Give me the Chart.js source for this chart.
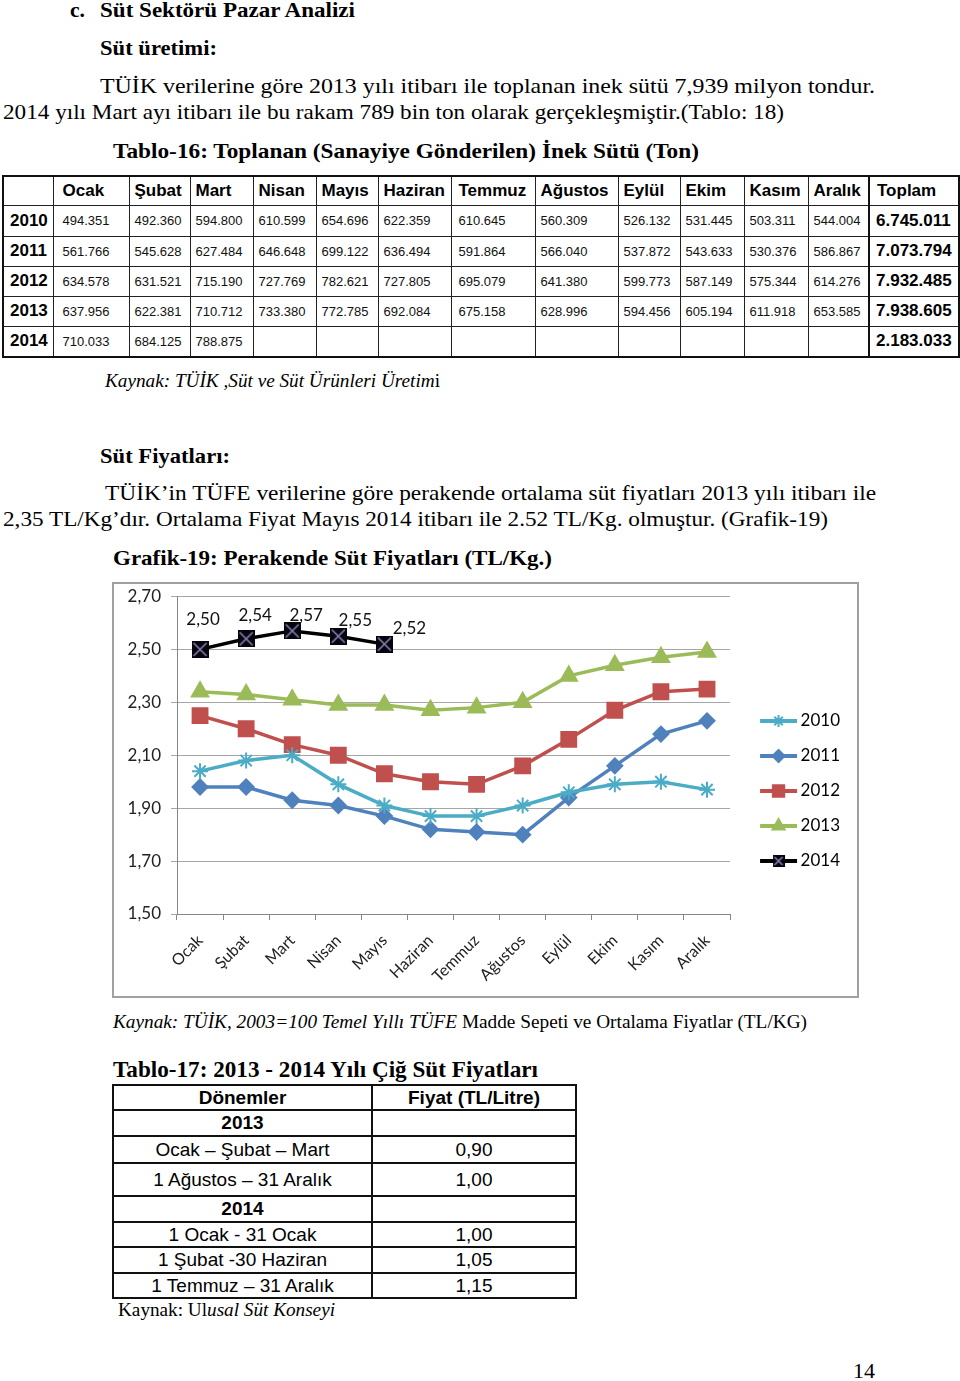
<!DOCTYPE html>
<html lang="tr">
<head>
<meta charset="utf-8">
<title>Süt Sektörü Pazar Analizi</title>
<script src="https://cdn.jsdelivr.net/npm/chart.js@4.4.1/dist/chart.umd.min.js"></script>
<style>
  html, body { margin: 0; padding: 0; background: #fff; }
  body { width: 960px; height: 1381px; position: relative; overflow: hidden;
         font-family: "Liberation Serif", "Times New Roman", serif; color: #000; }
  .t { position: absolute; white-space: nowrap; font-size: 21px; line-height: 24px; transform-origin: 0 50%; }
  .b { font-weight: bold; }
  .i { font-style: italic; }
  table { position: absolute; border-collapse: collapse; table-layout: fixed;
          font-family: "Liberation Sans", Arial, sans-serif; color: #000; }
  #prod { left: 2px; top: 175px; width: 956px; border: 2px solid #111; }
  #prod th, #prod td { border: 1px solid #222; padding: 0 0 0 5px; text-align: left; white-space: nowrap; overflow: hidden; }
  #prod th { font-size: 17px; font-weight: bold; }
  #prod td { font-size: 13px; color: #111; }
  #prod td.tot { font-size: 17px; font-weight: bold; color: #000; border-left: 2px solid #111; padding-left: 6px; }
  #prod th.tot { border-left: 2px solid #111; padding-left: 7px; }
  #prod .c1 { padding-left: 9px; }
  #prod .c7 { padding-left: 7px; }
  #prod th.yr { padding-left: 6px; }
  #price { left: 112px; top: 1084px; width: 463px; border: 2px solid #111; }
  #price th, #price td { border: 2px solid #111; padding: 0; text-align: center; font-size: 19px; white-space: nowrap; }
  #price th { font-weight: bold; }
  #box { position: absolute; left: 112px; top: 582px; width: 747px; height: 416px;
         border: 2px solid #a0a0a0; box-sizing: border-box; }
  #box canvas { display: block; }
</style>
</head>
<body>

<div class="t b" style="left:70px;top:-2px;font-size:22px" data-w="15">c.</div>
<div class="t b" style="left:100px;top:-2px;font-size:22px" data-w="255">Süt Sektörü Pazar Analizi</div>
<div class="t b" style="left:100px;top:36px;font-size:22px" data-w="117">Süt üretimi:</div>
<div class="t" style="left:100px;top:74px" data-w="775">TÜİK verilerine göre 2013 yılı itibarı ile toplanan inek sütü 7,939 milyon tondur.</div>
<div class="t" style="left:3px;top:100px" data-w="781">2014 yılı Mart ayı itibarı ile bu rakam 789 bin ton olarak gerçekleşmiştir.(Tablo: 18)</div>
<div class="t b" style="left:113px;top:139px;font-size:22px" data-w="586">Tablo-16: Toplanan (Sanayiye Gönderilen) İnek Sütü (Ton)</div>

<table id="prod"></table>

<div class="t" style="left:105px;top:369px;font-size:18px" data-w="335"><span class="i">Kaynak: TÜİK ,Süt ve Süt Ürünleri Üretim</span>i</div>

<div class="t b" style="left:100px;top:444px;font-size:22px" data-w="130">Süt Fiyatları:</div>
<div class="t" style="left:105px;top:481px" data-w="771">TÜİK’in TÜFE verilerine göre perakende ortalama süt fiyatları 2013 yılı itibarı ile</div>
<div class="t" style="left:3px;top:507px" data-w="825">2,35 TL/Kg’dır. Ortalama Fiyat Mayıs 2014 itibarı ile 2.52 TL/Kg. olmuştur. (Grafik-19)</div>
<div class="t b" style="left:113px;top:546px;font-size:22px" data-w="439">Grafik-19: Perakende Süt Fiyatları (TL/Kg.)</div>

<div id="box"><canvas id="priceChart" width="743" height="412"></canvas></div>

<div class="t" style="left:113px;top:1010px;font-size:18px" data-w="694"><span class="i">Kaynak: TÜİK, 2003=100 Temel Yıllı TÜFE</span> Madde Sepeti ve Ortalama Fiyatlar (TL/KG)</div>

<div class="t b" style="left:113px;top:1057px;font-size:23px;line-height:26px" data-w="425">Tablo-17: 2013 - 2014 Yılı Çiğ Süt Fiyatları</div>

<table id="price">
  <colgroup><col style="width:259px"><col style="width:204px"></colgroup>
  <tr style="height:25px"><th>Dönemler</th><th>Fiyat (TL/Litre)</th></tr>
  <tr style="height:26px"><th>2013</th><td></td></tr>
  <tr style="height:27px"><td>Ocak – Şubat – Mart</td><td>0,90</td></tr>
  <tr style="height:33px"><td>1 Ağustos – 31 Aralık</td><td>1,00</td></tr>
  <tr style="height:26px"><th>2014</th><td></td></tr>
  <tr style="height:25px"><td>1 Ocak - 31 Ocak</td><td>1,00</td></tr>
  <tr style="height:26px"><td>1 Şubat -30 Haziran</td><td>1,05</td></tr>
  <tr style="height:25px"><td>1 Temmuz – 31 Aralık</td><td>1,15</td></tr>
</table>

<div class="t" style="left:118px;top:1298px;font-size:18px" data-w="217">Kaynak: Ul<span class="i">usal Süt Konseyi</span></div>
<div class="t" style="left:853px;top:1359px" data-w="22">14</div>

<script>
// Tablo-16 values (ton)
const prodHeads = ['Ocak', 'Şubat', 'Mart', 'Nisan', 'Mayıs', 'Haziran', 'Temmuz', 'Ağustos', 'Eylül', 'Ekim', 'Kasım', 'Aralık'];
const prodYears = ['2010', '2011', '2012', '2013', '2014'];
const prod2010 = ['494.351', '492.360', '594.800', '610.599', '654.696', '622.359', '610.645', '560.309', '526.132', '531.445', '503.311', '544.004'];
const prod2011 = ['561.766', '545.628', '627.484', '646.648', '699.122', '636.494', '591.864', '566.040', '537.872', '543.633', '530.376', '586.867'];
const prod2012 = ['634.578', '631.521', '715.190', '727.769', '782.621', '727.805', '695.079', '641.380', '599.773', '587.149', '575.344', '614.276'];
const prod2013 = ['637.956', '622.381', '710.712', '733.380', '772.785', '692.084', '675.158', '628.996', '594.456', '605.194', '611.918', '653.585'];
const prod2014 = ['710.033', '684.125', '788.875', '', '', '', '', '', '', '', '', ''];
const prodTotals = ['6.745.011', '7.073.794', '7.932.485', '7.938.605', '2.183.033'];

// Grafik-19 values (TL/Kg)
const months = ['Ocak', 'Şubat', 'Mart', 'Nisan', 'Mayıs', 'Haziran', 'Temmuz', 'Ağustos', 'Eylül', 'Ekim', 'Kasım', 'Aralık'];
const price2010 = [2.04, 2.08, 2.10, 1.99, 1.91, 1.87, 1.87, 1.91, 1.96, 1.99, 2.00, 1.97];
const price2011 = [1.98, 1.98, 1.93, 1.91, 1.87, 1.82, 1.81, 1.80, 1.94, 2.06, 2.18, 2.23];
const price2012 = [2.25, 2.20, 2.14, 2.10, 2.03, 2.00, 1.99, 2.06, 2.16, 2.27, 2.34, 2.35];
const price2013 = [2.34, 2.33, 2.31, 2.29, 2.29, 2.27, 2.28, 2.30, 2.40, 2.44, 2.47, 2.49];
const price2014 = [2.50, 2.54, 2.57, 2.55, 2.52, null, null, null, null, null, null, null];
const yTicks = [1.50, 1.70, 1.90, 2.10, 2.30, 2.50, 2.70];

// build the production table
(function () {
  const colW = [50, 76, 61, 63, 63, 62, 73, 84, 83, 62, 64, 64, 61, 90];
  const rows = [prod2010, prod2011, prod2012, prod2013, prod2014];
  const rowH = [31, 30, 30, 30, 31];
  let html = '<colgroup>' + colW.map(w => '<col style="width:' + w + 'px">').join('') + '</colgroup>';
  html += '<tr style="height:29px"><th></th>' +
    prodHeads.map((h, i) => '<th class="c' + (i + 1) + '">' + h + '</th>').join('') +
    '<th class="tot">Toplam</th></tr>';
  rows.forEach((r, k) => {
    html += '<tr style="height:' + rowH[k] + 'px"><th class="yr">' + prodYears[k] + '</th>' +
      r.map((v, i) => '<td class="c' + (i + 1) + '">' + v + '</td>').join('') +
      '<td class="tot">' + prodTotals[k] + '</td></tr>';
  });
  document.getElementById('prod').innerHTML = html;
})();

// squeeze text lines to the widths of the page
document.querySelectorAll('[data-w]').forEach(el => {
  const w = el.getBoundingClientRect().width;
  el.style.transform = 'scaleX(' + (+el.dataset.w / w).toFixed(4) + ')';
});

// 2014 marker: black square with a grey cross
function crossBox(size) {
  const c = document.createElement('canvas');
  c.width = size; c.height = size;
  const g = c.getContext('2d');
  g.fillStyle = '#05050f';
  g.fillRect(0, 0, size, size);
  g.strokeStyle = '#8a7fb0';
  g.lineWidth = 1.6;
  g.beginPath();
  g.moveTo(2, 2); g.lineTo(size - 2, size - 2);
  g.moveTo(size - 2, 2); g.lineTo(2, size - 2);
  g.stroke();
  return c;
}

// legend sample: line with the marker in the middle
function legendIcon(color, style, r) {
  const c = document.createElement('canvas');
  c.width = 56; c.height = 18;
  const g = c.getContext('2d');
  g.strokeStyle = color;
  g.lineWidth = 4;
  g.beginPath(); g.moveTo(18, 9); g.lineTo(55, 9); g.stroke();
  if (typeof style === 'string') {
    g.fillStyle = color;
    g.lineWidth = 2;
    Chart.helpers.drawPoint(g, { pointStyle: style, radius: r, borderWidth: 2, rotation: 0 }, 36.5, 9);
  } else {
    g.drawImage(style, 36.5 - style.width / 2, 9 - style.height / 2);
  }
  return c;
}

const markBig = crossBox(17);
const markSmall = crossBox(12);

const styles = [
  { color: '#4bacc6', point: 'star', r: 8, legend: legendIcon('#4bacc6', 'star', 6) },
  { color: '#4f81bd', point: 'rectRot', r: 7.5, legend: legendIcon('#4f81bd', 'rectRot', 6) },
  { color: '#c0504d', point: 'rect', r: 10.5, legend: legendIcon('#c0504d', 'rect', 8) },
  { color: '#9bbb59', point: 'triangle', r: 9.5, legend: legendIcon('#9bbb59', 'triangle', 7) },
  { color: '#000000', point: markBig, r: 8, legend: legendIcon('#000000', markSmall, 6) }
];

const series = [price2010, price2011, price2012, price2013, price2014];
const seriesNames = ['2010', '2011', '2012', '2013', '2014'];

const pointLabels = {
  id: 'pointLabels',
  afterDatasetsDraw(chart, args, opts) {
    const ctx = chart.ctx;
    const ds = chart.data.datasets[opts.datasetIndex];
    const meta = chart.getDatasetMeta(opts.datasetIndex);
    ctx.save();
    ctx.font = '17px Lato';
    ctx.fillStyle = '#111';
    ctx.textAlign = 'center';
    ctx.textBaseline = 'middle';
    meta.data.forEach((pt, i) => {
      if (ds.data[i] == null) return;
      const off = opts.offsets[i];
      ctx.fillText(ds.data[i].toFixed(2).replace('.', ','), pt.x + off[0], pt.y + off[1]);
    });
    ctx.restore();
  }
};

new Chart(document.getElementById('priceChart'), {
  type: 'line',
  data: {
    labels: months,
    datasets: series.map((d, i) => ({
      label: seriesNames[i],
      data: d,
      borderColor: styles[i].color,
      backgroundColor: styles[i].color,
      borderWidth: 3.5,
      tension: 0,
      pointStyle: styles[i].point,
      pointRadius: styles[i].r,
      pointBorderWidth: 2,
      pointBorderColor: styles[i].color,
      pointBackgroundColor: styles[i].color,
      spanGaps: false
    }))
  },
  options: {
    responsive: false,
    animation: false,
    layout: { padding: { top: 2, right: 7, bottom: 0, left: 0 } },
    scales: {
      x: {
        offset: true,
        grid: { display: true, drawOnChartArea: false, drawTicks: true, tickLength: 6, color: '#868686', offset: true },
        border: { color: '#868686', width: 1 },
        ticks: { font: { family: 'Lato', size: 16 }, color: '#222', maxRotation: 45, minRotation: 45, autoSkip: false, padding: 11 },
        afterFit: s => { s.height = 82; }
      },
      y: {
        min: yTicks[0],
        max: yTicks[yTicks.length - 1],
        afterBuildTicks: s => { s.ticks = yTicks.map(v => ({ value: v })); },
        ticks: {
          callback: v => v.toFixed(2).replace('.', ','),
          font: { family: 'Lato', size: 17, lineHeight: 0.1 },
          color: '#222',
          padding: 10
        },
        grid: { color: '#a6a6a6', tickLength: 6, lineWidth: 1 },
        border: { color: '#868686' },
        afterFit: s => { s.width = 63; }
      }
    },
    plugins: {
      tooltip: { enabled: false },
      legend: {
        position: 'right',
        align: 'center',
        labels: {
          usePointStyle: true,
          pointStyleWidth: 44,
          boxHeight: 17,
          padding: 18,
          font: { family: 'Lato', size: 17 },
          color: '#111',
          generateLabels: chart => chart.data.datasets.map((ds, i) => ({
            text: ds.label,
            pointStyle: styles[i].legend,
            fillStyle: styles[i].color,
            strokeStyle: styles[i].color,
            lineWidth: 0,
            hidden: false,
            datasetIndex: i
          }))
        }
      },
      pointLabels: {
        datasetIndex: 4,
        offsets: [[3, -30], [9, -23], [14, -15], [17, -16], [25, -16]]
      }
    }
  },
  plugins: [pointLabels]
});
</script>
</body>
</html>
